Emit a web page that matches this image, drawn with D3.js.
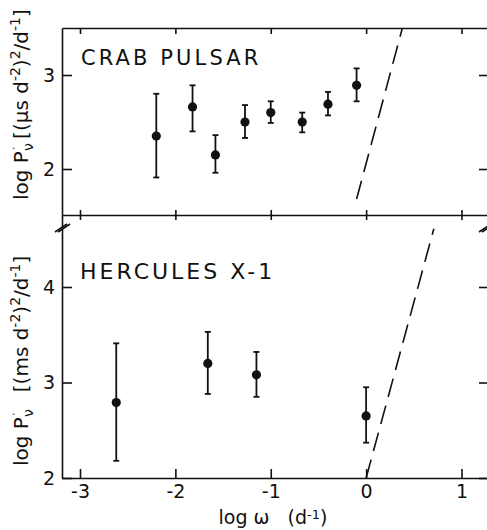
<!DOCTYPE html>
<html>
<head>
<meta charset="utf-8">
<script src="https://cdn.jsdelivr.net/npm/d3@7"></script>
<style>
  html, body { margin: 0; padding: 0; background: #fff; }
  svg { display: block; }
  text { font-family: "DejaVu Sans", sans-serif; fill: #111; }
  .axis path, .axis line { stroke: #111; stroke-width: 1.6; }
</style>
</head>
<body>
<svg id="chart" width="487" height="530"></svg>
<script>
// ---- data ----
var crabLogW  = [-2.2, -1.82, -1.58, -1.27, -1.0, -0.67, -0.4, -0.1];
var crabLogP  = [2.35, 2.66, 2.15, 2.50, 2.60, 2.50, 2.69, 2.89];
var crabErrHi = [2.80, 2.89, 2.36, 2.68, 2.72, 2.60, 2.82, 3.07];
var crabErrLo = [1.91, 2.40, 1.96, 2.33, 2.49, 2.39, 2.57, 2.72];

var herLogW  = [-2.62, -1.66, -1.15, 0.0];
var herLogP  = [2.79, 3.20, 3.08, 2.65];
var herErrHi = [3.41, 3.53, 3.32, 2.95];
var herErrLo = [2.18, 2.88, 2.85, 2.37];

// dashed reference lines [logW, logP]
var crabDashW = [-0.1, 0.38];
var crabDashP = [1.68, 3.5];
var herDashW  = [0.0, 0.71];
var herDashP  = [2.0, 4.61];

var xTicks     = [-3, -2, -1, 0, 1];
var crabYTicks = [2, 3];
var herYTicks  = [2, 3, 4];

(function(d3) {
    'use strict';

    var svg = d3.select('#chart');

    var left = 62, right = 489,
        top = 28, mid = 215, bottom = 478;

    var x = d3.scaleLinear().domain([-3, 1]).range([80, 461.5]);
    x.domain([x.invert(left), x.invert(right)]).range([left, right]);

    var yTop = d3.scaleLinear().domain([2, 3]).range([169, 75]);
    yTop.domain([yTop.invert(mid), yTop.invert(top)]).range([mid, top]);

    var yBot = d3.scaleLinear().domain([2, 4]).range([478, 287]);
    yBot.domain([2, yBot.invert(mid)]).range([bottom, mid]);

    var fmt = function(d) { return d < 0 ? '-' + Math.abs(d) : String(d); };

    /** ================ AXES ================ */
    // bottom x axis
    svg.append('g')
        .attr('class', 'axis')
        .attr('transform', 'translate(0,' + bottom + ')')
        .call(d3.axisBottom(x).tickValues(xTicks).tickSizeInner(-9).tickSizeOuter(0).tickPadding(7).tickFormat(fmt))
        .call(function(g) {
            g.selectAll('text').style('font-size', '19px');
        });

    // top frame
    svg.append('g')
        .attr('class', 'axis')
        .attr('transform', 'translate(0,' + top + ')')
        .call(d3.axisTop(x).tickValues(xTicks).tickSizeInner(-6).tickSizeOuter(0).tickFormat(''));

    // middle divider with crossing ticks
    var midG = svg.append('g')
        .attr('class', 'axis')
        .attr('transform', 'translate(0,' + mid + ')')
        .call(d3.axisBottom(x).tickValues(xTicks).tickSizeInner(5).tickSizeOuter(0).tickFormat(''));
    midG.selectAll('.tick line').attr('y1', -5);

    // left axes
    svg.append('g')
        .attr('class', 'axis')
        .attr('transform', 'translate(' + left + ',0)')
        .call(d3.axisLeft(yTop).tickValues(crabYTicks).tickSizeInner(-10).tickSizeOuter(0).tickPadding(7).tickFormat(fmt))
        .call(function(g) { g.selectAll('text').style('font-size', '19px'); });

    svg.append('g')
        .attr('class', 'axis')
        .attr('transform', 'translate(' + left + ',0)')
        .call(d3.axisLeft(yBot).tickValues(herYTicks).tickSizeInner(-10).tickSizeOuter(0).tickPadding(7).tickFormat(fmt))
        .call(function(g) { g.selectAll('text').style('font-size', '19px'); });

    // right axes (ticks only, inward)
    svg.append('g')
        .attr('class', 'axis')
        .attr('transform', 'translate(' + right + ',0)')
        .call(d3.axisRight(yTop).tickValues(crabYTicks).tickSizeInner(-10).tickSizeOuter(0).tickFormat(''));
    svg.append('g')
        .attr('class', 'axis')
        .attr('transform', 'translate(' + right + ',0)')
        .call(d3.axisRight(yBot).tickValues(herYTicks).tickSizeInner(-10).tickSizeOuter(0).tickFormat(''));

    // axis break marks
    [left, right - 3].forEach(function(ax) {
        [0, 3].forEach(function(off) {
            svg.append('line')
                .attr('x1', ax - 7 + off).attr('y1', mid + 17)
                .attr('x2', ax + 5 + off).attr('y2', mid + 9)
                .attr('stroke', '#111').attr('stroke-width', 1.6);
        });
    });

    /** ================ DATA ================ */
    function panel(xs, ys, hi, lo, yScale) {
        var g = svg.append('g');
        var pts = xs.map(function(d, i) { return { w: d, p: ys[i], hi: hi[i], lo: lo[i] }; });

        g.selectAll('line.err').data(pts).enter().append('line')
            .attr('class', 'err')
            .attr('x1', function(d) { return x(d.w); })
            .attr('x2', function(d) { return x(d.w); })
            .attr('y1', function(d) { return yScale(d.hi); })
            .attr('y2', function(d) { return yScale(d.lo); })
            .attr('stroke', '#111').attr('stroke-width', 1.8);

        ['hi', 'lo'].forEach(function(k) {
            g.selectAll('line.cap-' + k).data(pts).enter().append('line')
                .attr('class', 'cap-' + k)
                .attr('x1', function(d) { return x(d.w) - 3; })
                .attr('x2', function(d) { return x(d.w) + 3; })
                .attr('y1', function(d) { return yScale(d[k]); })
                .attr('y2', function(d) { return yScale(d[k]); })
                .attr('stroke', '#111').attr('stroke-width', 1.8);
        });

        g.selectAll('circle').data(pts).enter().append('circle')
            .attr('cx', function(d) { return x(d.w); })
            .attr('cy', function(d) { return yScale(d.p); })
            .attr('r', 4.6)
            .attr('fill', '#111');
    }

    panel(crabLogW, crabLogP, crabErrHi, crabErrLo, yTop);
    panel(herLogW, herLogP, herErrHi, herErrLo, yBot);

    function dashLine(ws, ps, yScale) {
        var line = d3.line()
            .x(function(d, i) { return x(ws[i]); })
            .y(function(d, i) { return yScale(ps[i]); });
        svg.append('path')
            .datum(ws)
            .attr('d', line)
            .attr('fill', 'none')
            .attr('stroke', '#111')
            .attr('stroke-width', 1.6)
            .attr('stroke-dasharray', '19,9');
    }
    dashLine(crabDashW, crabDashP, yTop);
    dashLine(herDashW, herDashP, yBot);

    /** ================ LABELS ================ */
    svg.append('text')
        .attr('x', 81).attr('y', 65)
        .style('font-size', '21px').style('letter-spacing', '3.1px')
        .text('CRAB PULSAR');

    svg.append('text')
        .attr('x', 80).attr('y', 279)
        .style('font-size', '22px').style('letter-spacing', '3px')
        .text('HERCULES X-1');

    // x axis title
    var xt = svg.append('text')
        .attr('x', 273).attr('y', 524)
        .attr('text-anchor', 'middle')
        .style('font-size', '19px');
    xt.append('tspan').text('log ω\u00a0\u00a0\u00a0(d');
    xt.append('tspan').attr('baseline-shift', '40%').style('font-size', '13px').text('-1');
    xt.append('tspan').text(')');

    // y axis titles
    function yTitle(yPos, unit, gap) {
        var t = svg.append('text')
            .attr('transform', 'translate(28,' + yPos + ') rotate(-90)')
            .style('font-size', '20px');
        t.append('tspan').text('log P');
        t.append('tspan').attr('dy', 5).style('font-size', '14px').text('\u03bd');
        t.append('tspan').attr('dx', -8).attr('dy', -11).style('font-size', '12px').text('\u02d9');
        t.append('tspan').attr('dy', 6).text(gap + '[(' + unit + ' d');
        t.append('tspan').attr('dy', -8).style('font-size', '14px').text('-2');
        t.append('tspan').attr('dy', 8).text(')');
        t.append('tspan').attr('dy', -8).style('font-size', '14px').text('2');
        t.append('tspan').attr('dy', 8).text('/d');
        t.append('tspan').attr('dy', -8).style('font-size', '14px').text('-1');
        t.append('tspan').attr('dy', 8).text(']');
    }
    yTitle(200, '\u03bcs', '\u00a0');
    yTitle(466, 'ms', '\u00a0\u00a0\u00a0');

}(window.d3));
</script>
</body>
</html>
